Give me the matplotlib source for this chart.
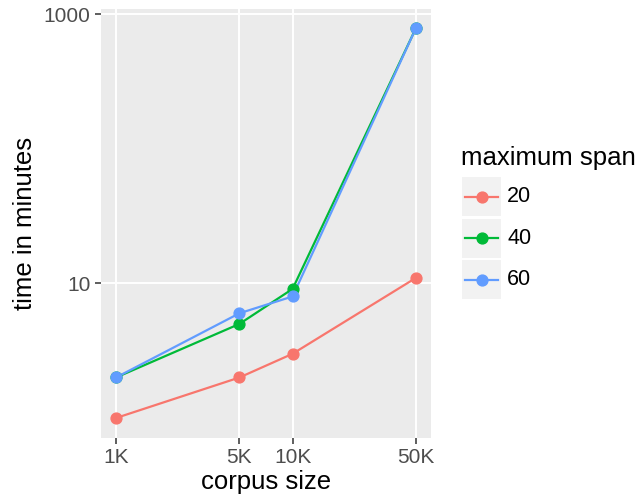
import matplotlib
matplotlib.use("Agg")
import matplotlib.pyplot as plt
from matplotlib.lines import Line2D
from matplotlib.patches import Rectangle
import numpy as np

corpus_size = [1000, 5000, 10000, 50000]
x_tick_labels = ["1K", "5K", "10K", "50K"]
span_labels = ["20", "40", "60"]
time_20 = [1.0, 2.0, 3.0, 11.0]
time_40 = [2.0, 5.0, 9.1, 790.0]
time_60 = [2.0, 6.0, 8.0, 790.0]
series = [time_20, time_40, time_60]
colors = ["#F8766D", "#00BA38", "#619CFF"]
y_ticks = [10, 1000]
y_tick_labels = ["10", "1000"]

plt.rcParams['font.family'] = ['Liberation Sans', 'DejaVu Sans']

W, H = 641, 501
fig = plt.figure(figsize=(W / 100, H / 100), dpi=100)
ax = fig.add_axes([101 / W, 1 - 437.5 / H, 330 / W, 429 / H])
ax.set_facecolor("#EBEBEB")
for s in ax.spines.values():
    s.set_visible(False)

ax.set_xscale("log")
ax.set_yscale("log")

for y, c in zip(series, colors):
    ax.plot(corpus_size, y, color=c, lw=1.6, zorder=3, solid_capstyle="butt")
for y, c in zip(series, colors):
    ax.plot(corpus_size, y, ls="none", marker="o", ms=7.8, color=c, mec=c, zorder=4)

lx = np.log10(corpus_size)
ly = np.log10([v for s in series for v in s])
ex = (lx.max() - lx.min()) * 0.05
ey = (ly.max() - ly.min()) * 0.05
ax.set_xlim(10 ** (lx.min() - ex), 10 ** (lx.max() + ex))
ax.set_ylim(10 ** (ly.min() - ey), 10 ** (ly.max() + ey))

ax.set_xticks(corpus_size)
ax.set_xticklabels(x_tick_labels)
ax.set_yticks(y_ticks)
ax.set_yticklabels(y_tick_labels)
ax.minorticks_off()
ax.tick_params(axis="both", which="major", length=4.5, width=1.1, color="#333333",
               labelcolor="#4D4D4D", labelsize=15, pad=3)
ax.grid(True, which="major", color="white", lw=1.4)
ax.set_axisbelow(True)

ax.set_xlabel("corpus size", fontsize=18.5, color="black", labelpad=2)
ax.set_ylabel("time in minutes", fontsize=18.5, color="black", labelpad=5)

# legend (drawn manually, ggplot style)
def fx(px):
    return px / W

def fy(py):
    return 1 - py / H

fig.text(fx(461), fy(158), "maximum span", fontsize=18.5, va="center", ha="left")
key_tops = [177, 218.5, 260]
for top, c, lab in zip(key_tops, colors, span_labels):
    fig.patches.append(Rectangle((fx(462), fy(top + 39)), 39 / W, 39 / H,
                                 transform=fig.transFigure, facecolor="#F2F2F2",
                                 edgecolor="none"))
    cy = fy(top + 19.5)
    fig.lines.append(Line2D([fx(465), fx(498)], [cy, cy], color=c, lw=1.6,
                            transform=fig.transFigure))
    fig.lines.append(Line2D([fx(481.5)], [cy], marker="o", ms=7.8, color=c,
                            transform=fig.transFigure))
    fig.text(fx(507), cy, lab, fontsize=15.5, va="center", ha="left")

fig.savefig("out.png", dpi=100, facecolor="white")
